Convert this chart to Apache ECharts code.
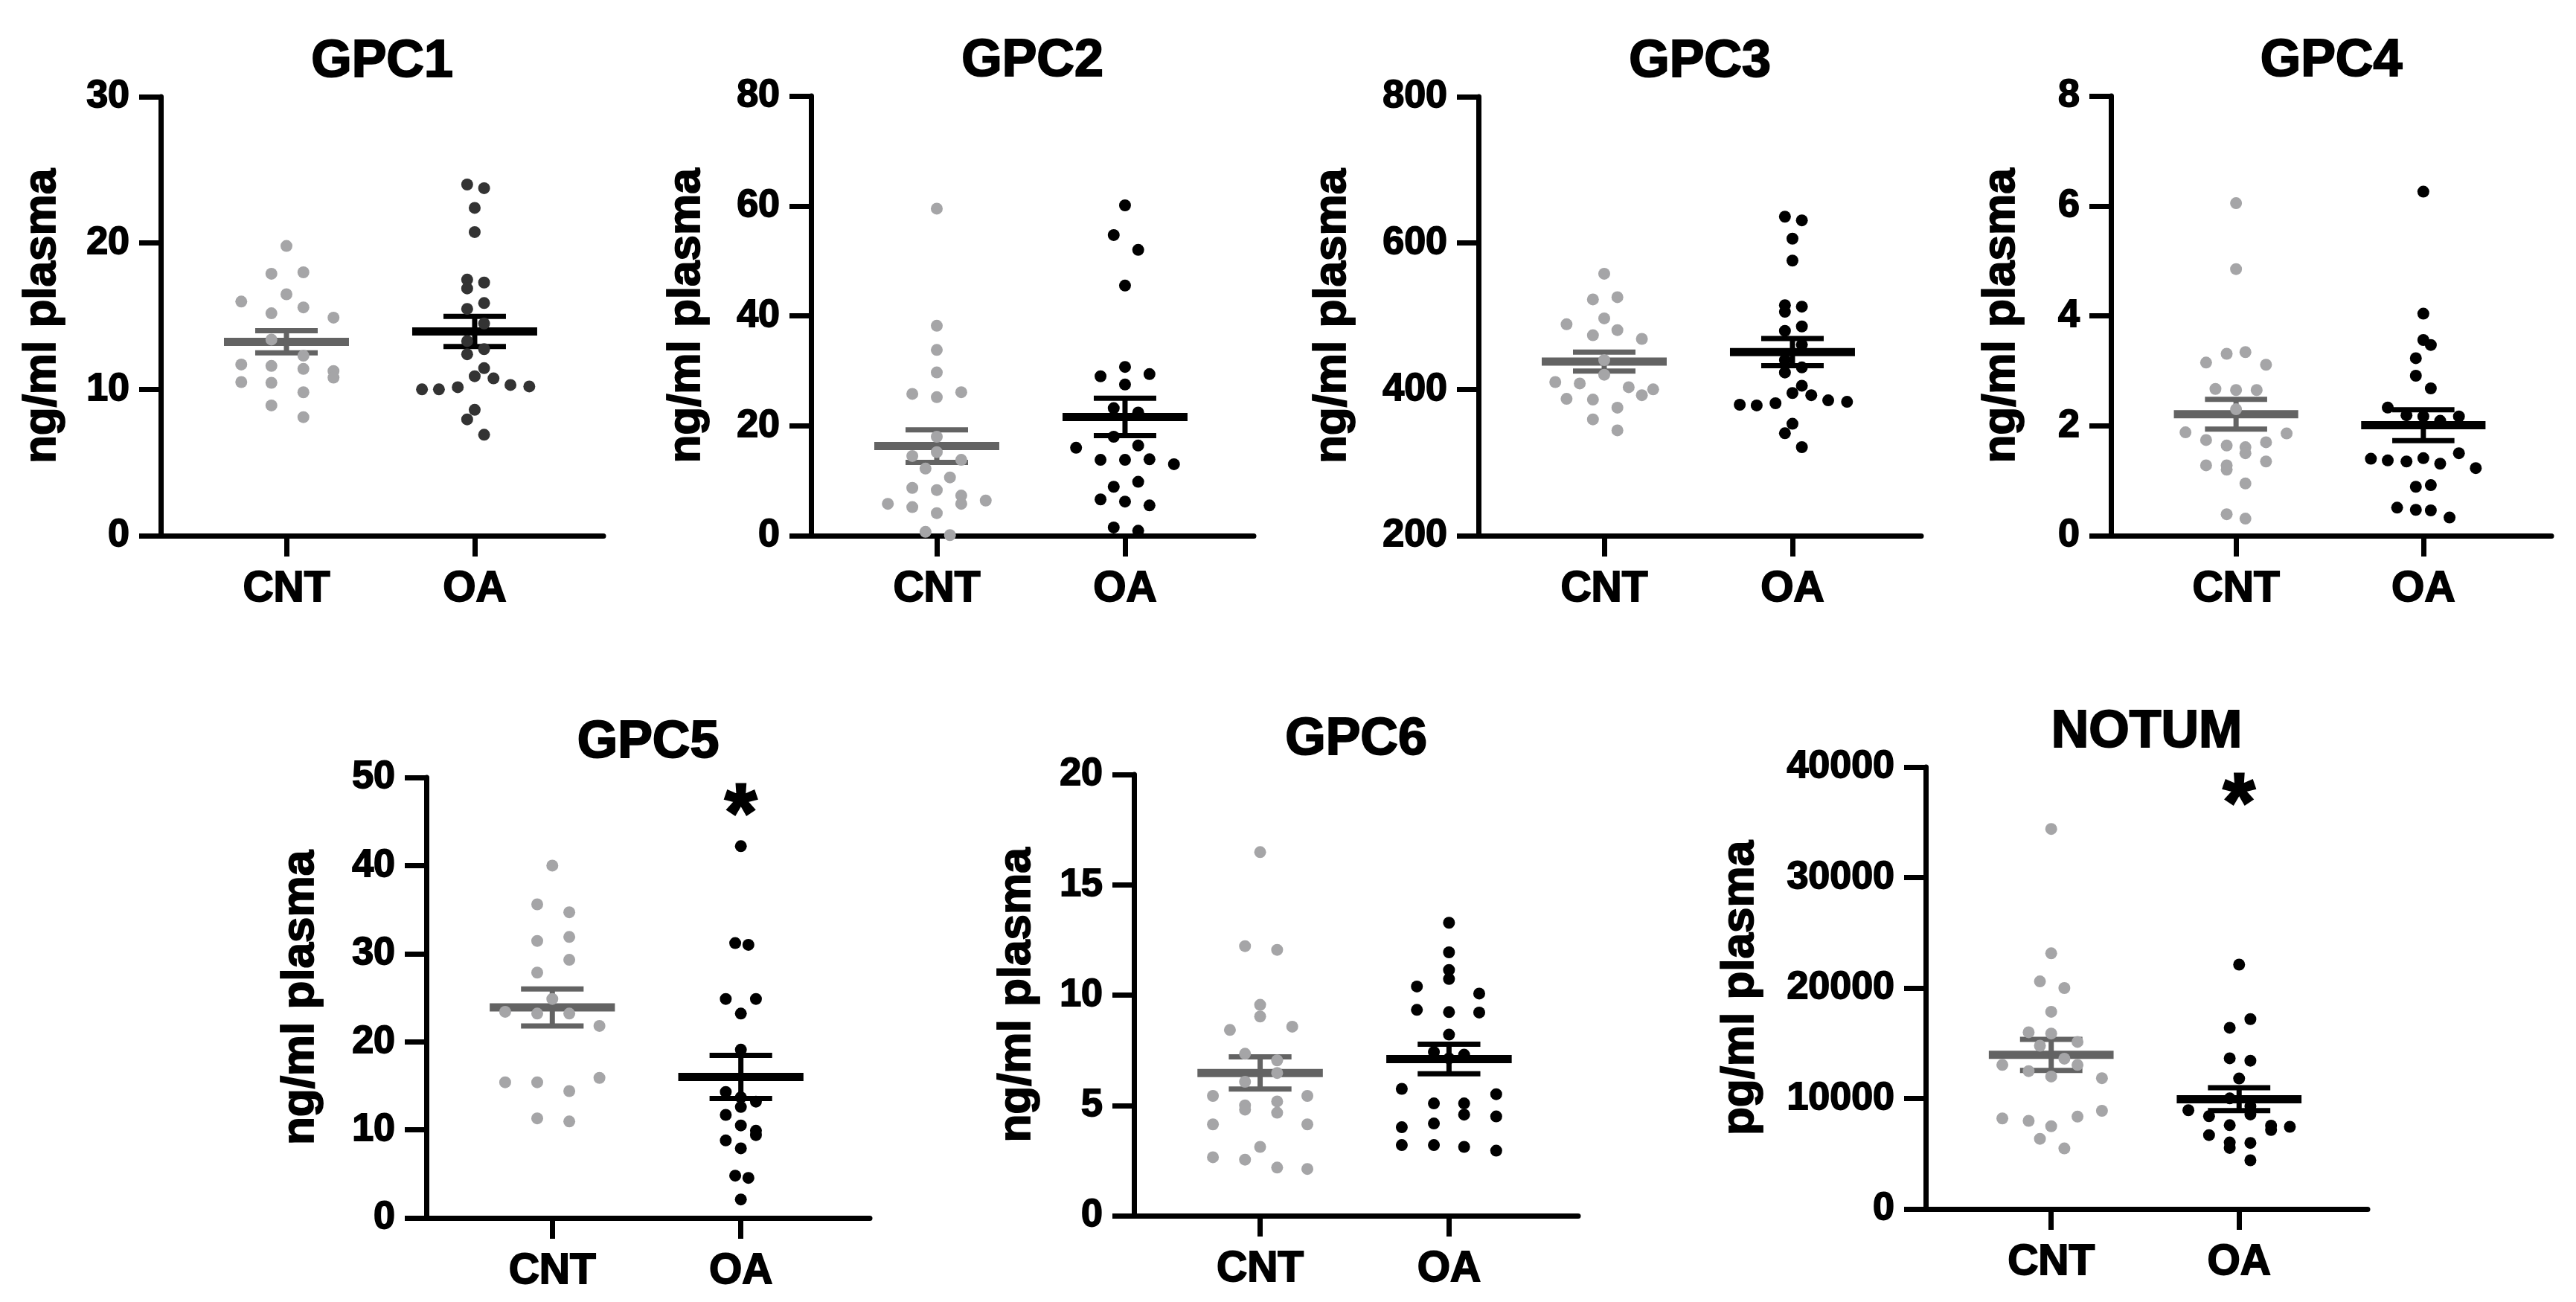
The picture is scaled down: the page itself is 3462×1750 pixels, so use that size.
<!DOCTYPE html>
<html>
<head>
<meta charset="utf-8">
<script src="https://cdn.jsdelivr.net/npm/echarts@6/dist/echarts.min.js"></script>
<style>
html,body{margin:0;padding:0;background:#fff;}
#chart{width:3462px;height:1750px;}
</style>
</head>
<body>
<div id="chart"></div>
<script>
// ---------- data ----------
const categories = ['CNT', 'OA'];
const panelTitles = ['GPC1', 'GPC2', 'GPC3', 'GPC4', 'GPC5', 'GPC6', 'NOTUM'];
const yNames = ['ng/ml plasma', 'ng/ml plasma', 'ng/ml plasma', 'ng/ml plasma', 'ng/ml plasma', 'ng/ml plasma', 'pg/ml plasma'];
const yMin = [0, 0, 200, 0, 0, 0, 0];
const yMax = [30, 80, 800, 8, 50, 20, 40000];
const yStep = [10, 20, 200, 2, 10, 5, 10000];

// points: [horizontal jitter within group (category units), value]
const gpc1Cnt = [[0,19.8],[-0.08,17.9],[0.09,18.0],[0,16.5],[-0.24,16.0],[-0.08,15.2],[0.09,15.6],[0.25,14.9],[-0.08,13.4],[0.09,12.3],[-0.24,11.7],[-0.08,11.6],[0.09,11.4],[0.25,11.25],[0.25,10.8],[-0.24,10.5],[-0.08,10.45],[0.09,9.8],[-0.08,8.9],[0.09,8.1]];
const gpc1Oa = [[-0.04,24.0],[0.05,23.75],[0,22.4],[0,20.75],[-0.04,17.5],[0.05,17.3],[-0.04,16.9],[0.05,15.9],[-0.04,15.5],[0.05,14.5],[-0.04,13.3],[0.05,12.75],[-0.04,12.4],[0.05,11.45],[0,10.9],[0.1,10.75],[0.19,10.3],[0.29,10.2],[-0.28,10.0],[-0.19,10.0],[-0.09,10.15],[0,8.6],[-0.04,7.95],[0.05,6.9]];
const gpc2Cnt = [[0,59.5],[0,38.2],[0,33.8],[0,29.7],[-0.13,25.8],[0.13,26.1],[0,25.2],[0,18.0],[-0.13,14.5],[0,15.2],[0.13,13.8],[-0.06,12.2],[0.07,10.6],[-0.13,8.7],[0,8.3],[0.13,7.3],[0.13,5.8],[-0.26,5.8],[0.26,6.4],[-0.13,5.2],[0,4.1],[-0.06,0.7],[0.07,0.1]];
const gpc2Oa = [[0,60.1],[-0.06,54.7],[0.07,52.0],[0,45.5],[0,30.7],[-0.13,29.0],[0.13,29.4],[0,27.5],[-0.06,23.2],[0.07,22.4],[-0.06,18.0],[-0.26,16.0],[0.07,16.4],[-0.13,13.8],[0,13.8],[0.13,13.9],[0.26,13.0],[-0.06,8.9],[0.07,9.8],[-0.13,6.6],[0,6.2],[0.13,5.5],[-0.06,1.5],[0.07,0.9]];
const gpc3Cnt = [[0,558],[-0.06,523],[0.07,526],[0,497],[-0.2,489],[0.07,481],[-0.06,474],[0.2,469],[0,440],[0,420],[-0.26,410],[-0.13,408],[0.13,403],[0.26,400],[0.2,392],[-0.2,387],[-0.06,386],[0.07,375],[-0.06,359],[0.07,344]];
const gpc3Oa = [[-0.04,636],[0.05,631],[0,606],[0,576],[-0.04,515],[0.05,513],[-0.04,506],[0.05,486],[-0.04,480],[0.05,461],[-0.04,440],[0.05,430],[-0.04,423],[0.05,405],[0,395],[0.1,392],[0.19,385],[0.29,383],[-0.28,379],[-0.19,378],[-0.09,381],[0,353],[-0.04,340],[0.05,321]];
const gpc4Cnt = [[0,6.05],[0,4.85],[-0.05,3.31],[0.05,3.34],[-0.16,3.15],[0.16,3.11],[-0.11,2.67],[0,2.65],[0.11,2.65],[0,2.30],[-0.27,1.88],[0.27,1.86],[-0.16,1.74],[0.16,1.70],[-0.05,1.64],[0.05,1.61],[0.05,1.50],[-0.16,1.28],[-0.05,1.28],[-0.05,1.20],[0.16,1.35],[0.05,0.95],[-0.05,0.39],[0.05,0.31]];
const gpc4Oa = [[0,6.26],[0,4.04],[0,3.56],[0.04,3.47],[-0.04,3.23],[-0.04,2.91],[0.04,2.68],[-0.19,2.33],[-0.09,2.19],[0,2.17],[0.09,2.09],[0.19,2.17],[0.19,1.50],[-0.28,1.40],[-0.19,1.37],[-0.09,1.35],[0,1.41],[0.09,1.31],[0.28,1.23],[-0.04,0.89],[0.04,0.92],[-0.14,0.51],[-0.04,0.47],[0.04,0.46],[0.14,0.33]];
const gpc5Cnt = [[0,40.0],[-0.08,35.6],[0.09,34.7],[-0.08,31.45],[0.09,31.9],[0.09,29.3],[-0.08,27.85],[0,24.86],[-0.25,23.4],[-0.08,23.2],[0.09,23.2],[0.25,21.8],[-0.25,15.4],[-0.08,15.4],[0.25,15.9],[0.09,14.4],[-0.08,11.3],[0.09,10.95]];
const gpc5Oa = [[0,42.2],[-0.03,31.2],[0.04,31.0],[-0.08,24.86],[0.08,24.86],[0,23.2],[0,19.1],[-0.08,14.3],[0,13.7],[0.08,13.2],[0,12.6],[-0.08,11.7],[0,10.5],[0.08,9.4],[0.08,9.9],[-0.08,8.8],[0,7.9],[-0.03,4.8],[0.04,4.55],[0,2.1]];
const gpc6Cnt = [[0,16.48],[-0.08,12.22],[0.09,12.05],[0,9.56],[0,9.03],[-0.16,8.42],[0.17,8.57],[-0.08,7.34],[0.09,7.04],[0.09,6.47],[-0.08,6.07],[-0.25,5.43],[0.25,5.43],[0.09,5.18],[-0.08,5.0],[-0.08,4.81],[0.09,4.67],[-0.25,4.14],[0.25,4.14],[0,3.12],[-0.25,2.65],[-0.08,2.54],[0.09,2.18],[0.25,2.12]];
const gpc6Oa = [[0,13.28],[0,11.94],[0,11.14],[0,10.73],[-0.17,10.39],[0.16,10.07],[-0.17,9.33],[0,9.23],[0.16,9.21],[0,8.21],[-0.08,7.42],[0.08,7.30],[0,7.13],[-0.25,5.75],[0.25,5.51],[-0.08,5.09],[0.08,5.09],[0.08,4.58],[0.25,4.5],[-0.25,4.01],[-0.08,4.18],[-0.25,3.2],[-0.08,3.2],[0.08,3.12],[0.25,2.95]];
const notumCnt = [[0,34400],[0,23140],[-0.06,20600],[0.07,20000],[0,17850],[-0.12,16000],[0,15880],[0.14,15120],[-0.06,14780],[0.07,13610],[-0.26,13040],[0.14,13040],[-0.12,12480],[0,11990],[0.27,11840],[0.27,8890],[-0.26,8200],[0.14,8360],[-0.12,7980],[0,7490],[-0.06,6350],[0.07,5480]];
const notumOa = [[0,22120],[0.06,17190],[-0.05,16400],[-0.05,13640],[0.06,13420],[0,11810],[-0.05,10010],[0.06,9300],[-0.27,8940],[-0.16,8400],[0.06,8560],[-0.05,7590],[0.17,7550],[0.17,7150],[0.27,7440],[-0.16,6690],[-0.05,6020],[-0.05,5530],[0.06,5980],[0.06,4410]];

// mean and SEM lines
const meanCnt = [13.25, 16.3, 438, 2.21, 23.9, 6.47, 13950];
const semCnt = [0.76, 2.96, 13, 0.27, 2.1, 0.73, 1400];
const meanOa = [13.96, 21.6, 451, 2.01, 16.0, 7.1, 9940];
const semOa = [1.03, 3.4, 18.5, 0.28, 2.45, 0.67, 1030];
// significance marks (value at which the asterisk sits, OA group)
const starValue = [null, null, null, null, 47.5, null, 38000];

const cntPoints = [gpc1Cnt, gpc2Cnt, gpc3Cnt, gpc4Cnt, gpc5Cnt, gpc6Cnt, notumCnt];
const oaPoints = [gpc1Oa, gpc2Oa, gpc3Oa, gpc4Oa, gpc5Oa, gpc6Oa, notumOa];

// ---------- layout / style ----------
const layout = [
  {left: 216, top: 130, width: 595, height: 590, gap: 128},
  {left: 1090, top: 129, width: 595, height: 591, gap: 136},
  {left: 1987, top: 130, width: 595, height: 590, gap: 165},
  {left: 2837, top: 129, width: 592, height: 591, gap: 116},
  {left: 573, top: 1045, width: 596, height: 592, gap: 138},
  {left: 1524, top: 1041, width: 597, height: 593, gap: 126},
  {left: 2588, top: 1031, width: 594, height: 594, gap: 218}
];
const FONT = '"Liberation Sans", Arial, Helvetica, sans-serif';
const CNT_DOT = '#a5a5a7';
const CNT_LINE = '#636363';
const OA_DOT = ['#333333', '#000', '#000', '#000', '#000', '#000', '#000'];
const OA_LINE = '#000';
const heavy = {color: '#000', fontFamily: FONT, fontWeight: 'bold', textBorderColor: '#000', textBorderWidth: 1.8};

const grids = [], xAxes = [], yAxes = [], series = [], graphics = [];

layout.forEach((g, i) => {
  grids.push({left: g.left, top: g.top, width: g.width, height: g.height, containLabel: false});
  xAxes.push({
    type: 'value', gridIndex: i, min: -0.668, max: 1.684,
    axisLine: {show: true, onZero: false, lineStyle: {color: '#000', width: 7}},
    axisTick: {show: true, customValues: [0, 1], length: 28, lineStyle: {color: '#000', width: 7}},
    axisLabel: Object.assign({show: true, customValues: [0, 1], formatter: v => categories[Math.round(v)],
      fontSize: 57, margin: 44}, heavy),
    splitLine: {show: false}
  });
  yAxes.push({
    type: 'value', gridIndex: i, min: yMin[i], max: yMax[i], interval: yStep[i],
    name: yNames[i], nameLocation: 'middle', nameRotate: 90, nameGap: g.gap,
    nameTextStyle: Object.assign({fontSize: 62}, heavy),
    axisLine: {show: true, onZero: false, lineStyle: {color: '#000', width: 7}},
    axisTick: {show: true, length: 29, lineStyle: {color: '#000', width: 7}},
    axisLabel: Object.assign({fontSize: 52, margin: 42, formatter: v => String(v)}, heavy),
    splitLine: {show: false}
  });
  graphics.push({
    type: 'text', x: g.left + g.width / 2, y: g.top - 46,
    style: {text: panelTitles[i], font: 'bold 70px ' + FONT, fill: '#000', stroke: '#000', lineWidth: 2,
      align: 'center', verticalAlign: 'middle'}
  });

  // mean + SEM
  series.push({
    type: 'custom', xAxisIndex: i, yAxisIndex: i, z: 1, silent: true,
    data: [[0, meanCnt[i], semCnt[i]], [1, meanOa[i], semOa[i]]],
    renderItem: function (params, api) {
      const x = api.value(0), m = api.value(1), s = api.value(2);
      const c = api.coord([x, m]);
      const up = api.coord([x, m + s]);
      const dn = api.coord([x, m - s]);
      const halfMean = api.size([0.332, 0])[0];
      const halfCap = api.size([0.166, 0])[0];
      const col = x === 0 ? CNT_LINE : OA_LINE;
      return {
        type: 'group',
        children: [
          {type: 'rect', shape: {x: c[0] - halfMean, y: c[1] - 5.5, width: 2 * halfMean, height: 11}, style: {fill: col}},
          {type: 'rect', shape: {x: c[0] - 3.5, y: up[1], width: 7, height: dn[1] - up[1]}, style: {fill: col}},
          {type: 'rect', shape: {x: c[0] - halfCap, y: up[1] - 3.5, width: 2 * halfCap, height: 7}, style: {fill: col}},
          {type: 'rect', shape: {x: c[0] - halfCap, y: dn[1] - 3.5, width: 2 * halfCap, height: 7}, style: {fill: col}}
        ]
      };
    }
  });
  series.push({
    type: 'scatter', xAxisIndex: i, yAxisIndex: i, z: 2, symbolSize: 16,
    itemStyle: {color: CNT_DOT, opacity: 1},
    data: cntPoints[i].map(p => [0 + p[0], p[1]])
  });
  series.push({
    type: 'scatter', xAxisIndex: i, yAxisIndex: i, z: 3, symbolSize: 16,
    itemStyle: {color: OA_DOT[i], opacity: 1},
    data: oaPoints[i].map(p => [1 + p[0], p[1]])
  });
  if (starValue[i] !== null) {
    series.push({
      type: 'scatter', xAxisIndex: i, yAxisIndex: i, z: 4, symbol: 'circle', symbolSize: 2,
      itemStyle: {color: 'rgba(0,0,0,0)'},
      label: {show: true, position: 'inside', formatter: '*', color: '#000', fontFamily: FONT,
        fontWeight: 'bold', fontSize: 110, offset: [0, 24], opacity: 1,
        textBorderColor: '#000', textBorderWidth: 3},
      data: [[1, starValue[i]]]
    });
  }
});

const chart = echarts.init(document.getElementById('chart'), null, {renderer: 'canvas'});
chart.setOption({
  backgroundColor: '#fff',
  animation: false,
  grid: grids,
  xAxis: xAxes,
  yAxis: yAxes,
  series: series,
  graphic: graphics
});
</script>
</body>
</html>
